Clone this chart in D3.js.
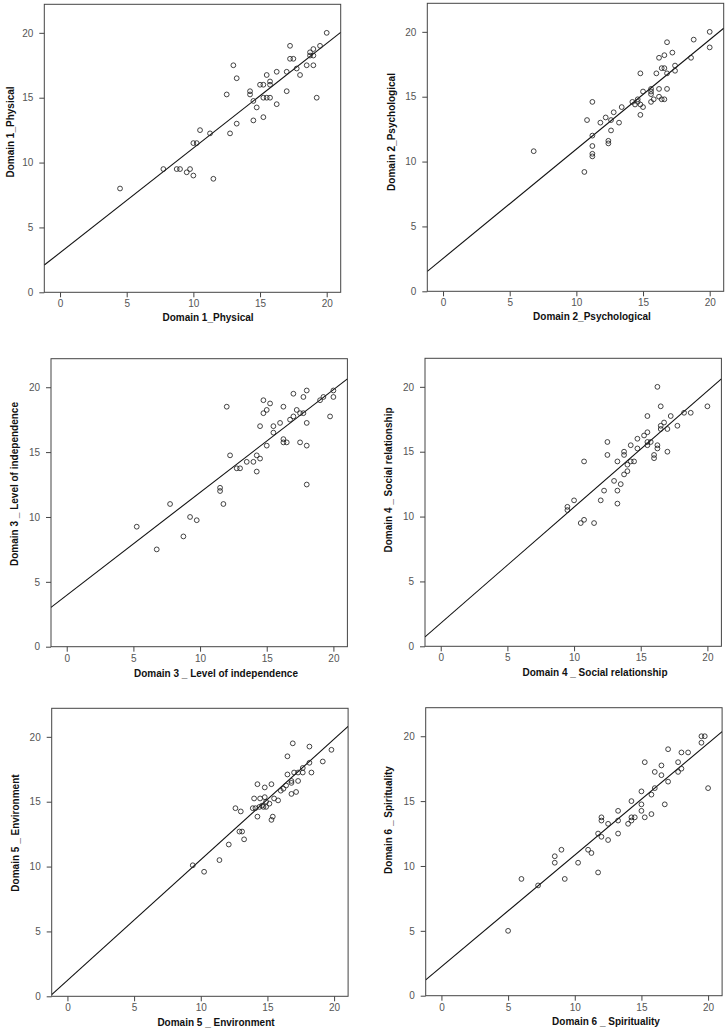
<!DOCTYPE html>
<html>
<head>
<meta charset="utf-8">
<script src="https://cdn.jsdelivr.net/npm/d3@7"></script>
<style>
	body { margin: 0; background: #fff; }
	svg { display: block; }
</style>
</head>
<body>
<script>
// axis ticks shared by every panel
const tickValues = [0, 5, 10, 15, 20];

const labels = [
	"Domain 1_Physical",
	"Domain 2_Psychological",
	"Domain 3 _ Level of independence",
	"Domain 4 _ Social relationship",
	"Domain 5 _ Environment",
	"Domain 6 _ Spirituality"
];

// [x, y] pairs
const domain1 = [[4.5,8],[7.75,9.5],[8.75,9.5],[9,9.5],[9.5,9.25],[9.75,9.5],[10,9],[10,11.5],[10.25,11.5],[10.5,12.5],[11.25,12.25],[11.5,8.75],[12.5,15.25],[12.75,12.25],[13,17.5],[13.25,16.5],[13.25,13],[14.25,15.5],[14.25,15.25],[14.5,14.75],[14.5,13.25],[14.75,14.25],[15,16],[15.25,16],[15.25,15],[15.25,13.5],[15.5,16.75],[15.5,15],[15.75,16.25],[15.75,16],[15.75,15],[16.25,17],[16.25,14.5],[17,15.5],[17,17],[17.25,19],[17.25,18],[17.5,18],[17.75,17.25],[18,16.75],[18.5,17.5],[18.75,18.5],[18.75,18.25],[19,18.75],[19,18.25],[19,17.5],[19.25,15],[19.5,19],[20,20]];

const domain2 = [[6.8,10.8],[10.6,9.2],[10.8,13.2],[11.2,14.6],[11.2,12],[11.2,11.2],[11.2,10.6],[11.2,10.4],[11.8,13],[12.2,13.4],[12.4,11.6],[12.4,11.4],[12.6,13.2],[12.6,12.4],[12.8,13.8],[13.2,13],[13.4,14.2],[14.2,14.6],[14.4,14.4],[14.6,14.8],[14.6,14.6],[14.8,14.4],[14.8,16.8],[14.8,13.6],[15,15.4],[15,14.2],[15.6,15.6],[15.6,15.4],[15.6,15.2],[15.6,14.6],[15.8,14.8],[16,16.8],[16.2,18],[16.2,15.6],[16.2,15],[16.4,17.2],[16.4,14.8],[16.6,18.2],[16.6,17.2],[16.6,14.8],[16.8,19.2],[16.8,16.8],[16.8,15.6],[17.2,18.4],[17.4,17.4],[17.4,17],[18.6,18],[18.8,19.4],[20,20],[20,18.8]];

const domain3 = [[5.25,9.25],[6.75,7.5],[7.75,11],[8.75,8.5],[9.25,10],[9.75,9.75],[11.5,12.25],[11.5,12],[11.75,11],[12,18.5],[12.25,14.75],[12.75,13.75],[13,13.75],[13.5,14.25],[14,14.25],[14.25,14.75],[14.25,13.5],[14.5,14.5],[14.5,17],[14.75,19],[14.75,18],[15,18.25],[15,15.5],[15.25,18.75],[15.5,17],[15.5,16.5],[16,17.25],[16.25,18.5],[16.25,16],[16.25,15.75],[16.5,15.75],[16.75,17.5],[17,19.5],[17,17.75],[17.25,18.25],[17.5,18],[17.5,15.75],[17.75,19.25],[17.75,18],[18,19.75],[18,17.25],[18,15.5],[18,12.5],[19,19],[19.25,19.25],[19.75,17.75],[20,19.75],[20,19.25]];

const domain4 = [[9.5,10.75],[9.5,10.5],[10,11.25],[10.5,9.5],[10.75,9.75],[10.75,14.25],[11.5,9.5],[12,11.25],[12.25,12],[12.5,15.75],[12.5,14.75],[13,12.75],[13.25,14.25],[13.25,12],[13.25,11],[13.5,12.5],[13.75,15],[13.75,14.75],[13.75,13.25],[14,14],[14,13.5],[14.25,15.5],[14.25,14.25],[14.5,14.25],[14.75,16],[14.75,15.25],[15.25,16.25],[15.5,17.75],[15.5,16.5],[15.5,15.75],[15.5,15.5],[15.75,15.75],[16,14.75],[16,14.5],[16.25,20],[16.25,15.5],[16.25,15.25],[16.5,18.5],[16.5,17],[16.5,16.75],[16.75,17.25],[17,16.75],[17,15],[17.25,17.75],[17.75,17],[18.25,18],[18.75,18],[20,18.5]];

const domain5 = [[9.4,10.1],[10.25,9.6],[11.4,10.5],[12.1,11.7],[12.6,14.5],[13,14.25],[12.9,12.7],[13.1,12.7],[13.25,12.1],[13.9,14.5],[14,15.25],[14.1,14.5],[14.25,16.35],[14.25,13.85],[14.4,14.6],[14.45,15.25],[14.6,14.7],[14.7,14.6],[14.8,16.1],[14.8,15.35],[14.9,15],[14.9,14.6],[15.15,14.85],[15.3,16.35],[15.3,13.6],[15.4,13.85],[15.5,15.25],[15.8,15.1],[16,15.85],[16.2,16],[16.4,16.25],[16.5,18.5],[16.5,17.1],[16.8,16.6],[16.8,16.45],[16.8,15.6],[16.9,19.5],[17,17.25],[17.15,15.75],[17.3,17.25],[17.3,16.6],[17.65,17.6],[17.65,17.25],[18.15,18],[18.15,19.25],[18.3,17.25],[19.15,18.1],[19.8,19]];

const domain6 = [[5,5],[6,9],[7.25,8.5],[8.5,10.75],[8.5,10.25],[9,11.25],[9.25,9],[10.25,10.25],[11,11.25],[11.25,11],[11.75,9.5],[11.75,12.5],[12,13.75],[12,13.5],[12,12.25],[12.5,13.25],[12.5,12],[13.25,14.25],[13.25,13.5],[13.25,12.5],[14,13.25],[14.25,15],[14.25,13.75],[14.25,13.5],[14.5,13.75],[15,15.75],[15,14.75],[15,14.25],[15.25,18],[15.25,13.75],[15.75,15.5],[15.75,14],[16,17.25],[16,16],[16.5,17.75],[16.5,17],[16.75,14.75],[17,19],[17,16.5],[17.75,18],[17.75,17.25],[18,18.75],[18,17.5],[18.5,18.75],[19.5,20],[19.5,19.5],[19.75,20],[20,16]];

// fitted regression lines
const fitIntercept = [3.05, 2.53, 3.97, 1.78, 1.23, 2.23];
const fitSlope = [0.807, 0.843, 0.792, 0.895, 0.930, 0.861];

const datasets = [domain1, domain2, domain3, domain4, domain5, domain6];

// panel placement in the page
const layout = [
	{left: 44.3, top: 4.3, xLabelX: 208, xLabelY: 317, yLabelX: 10, yLabelY: 132},
	{left: 427.3, top: 3.3, xLabelX: 592, xLabelY: 316, yLabelX: 391, yLabelY: 132},
	{left: 51, top: 358.7, xLabelX: 216, xLabelY: 673, yLabelX: 14, yLabelY: 484},
	{left: 425, top: 358.3, xLabelX: 595, xLabelY: 672, yLabelX: 388, yLabelY: 480},
	{left: 51.7, top: 708.3, xLabelX: 216, xLabelY: 1022, yLabelX: 15, yLabelY: 833},
	{left: 425.7, top: 707.7, xLabelX: 606, xLabelY: 1021, yLabelX: 388, yLabelY: 820}
];

const width = 728, height = 1030;
const plotW = 296.4, plotH = 288;
const xDomain = [-1.18, 21.05], yDomain = [0, 22.2];
const axisColor = "#444";
const font = "'Liberation Sans', Arial, sans-serif";

const svg = d3.select("body").append("svg")
	.attr("width", width)
	.attr("height", height);

datasets.forEach((data, i) => {
	const L = layout[i];

	const x = d3.scaleLinear()
		.domain(xDomain)
		.range([L.left, L.left + plotW]);
	const y = d3.scaleLinear()
		.domain(yDomain)
		.range([L.top + plotH, L.top]);

	const g = svg.append("g");

	const clipId = "clip" + i;
	g.append("clipPath")
		.attr("id", clipId)
		.append("rect")
			.attr("x", L.left)
			.attr("y", L.top)
			.attr("width", plotW)
			.attr("height", plotH);

	// frame
	g.append("rect")
		.attr("x", L.left)
		.attr("y", L.top)
		.attr("width", plotW)
		.attr("height", plotH)
		.attr("fill", "none")
		.attr("stroke", axisColor)
		.attr("stroke-width", 1);

	const xAxis = g.append("g")
		.attr("transform", `translate(0,${L.top + plotH})`)
		.call(d3.axisBottom(x).tickValues(tickValues).tickSize(5).tickPadding(3).tickFormat(d3.format("d")));
	const yAxis = g.append("g")
		.attr("transform", `translate(${L.left},0)`)
		.call(d3.axisLeft(y).tickValues(tickValues).tickSize(5).tickPadding(6).tickFormat(d3.format("d")));

	[xAxis, yAxis].forEach(ax => ax
		.call(a => a.select(".domain").remove())
		.call(a => a.selectAll(".tick line").attr("stroke", axisColor))
		.call(a => a.selectAll(".tick text")
			.attr("fill", "#555")
			.attr("font-family", font)
			.attr("font-size", 10)));

	// regression line
	g.append("line")
		.attr("clip-path", `url(#${clipId})`)
		.attr("x1", x(xDomain[0]))
		.attr("y1", y(fitIntercept[i] + fitSlope[i] * xDomain[0]))
		.attr("x2", x(xDomain[1]))
		.attr("y2", y(fitIntercept[i] + fitSlope[i] * xDomain[1]))
		.attr("stroke", "#111")
		.attr("stroke-width", 1.1);

	g.append("g")
		.selectAll("circle")
		.data(data)
		.join("circle")
			.attr("cx", d => x(d[0]))
			.attr("cy", d => y(d[1]))
			.attr("r", 2.4)
			.attr("fill", "none")
			.attr("stroke", "#222")
			.attr("stroke-width", 0.85);

	g.append("text")
		.attr("x", L.xLabelX)
		.attr("y", L.xLabelY)
		.attr("dy", "0.35em")
		.attr("text-anchor", "middle")
		.attr("font-family", font)
		.attr("font-weight", "bold")
		.attr("font-size", 10)
		.attr("fill", "#111")
		.text(labels[i]);

	g.append("text")
		.attr("transform", `translate(${L.yLabelX},${L.yLabelY}) rotate(-90)`)
		.attr("dy", "0.35em")
		.attr("text-anchor", "middle")
		.attr("font-family", font)
		.attr("font-weight", "bold")
		.attr("font-size", 10)
		.attr("fill", "#111")
		.text(labels[i]);
});
</script>
</body>
</html>
